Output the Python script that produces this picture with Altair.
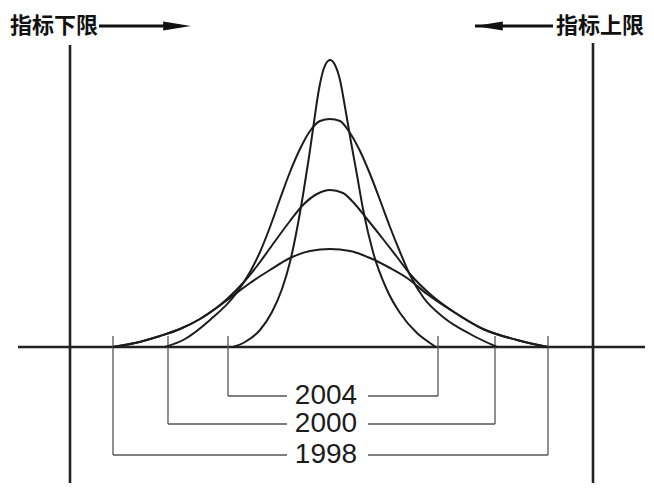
import altair as alt
import pandas as pd

# ---- curve data (x: position relative to centre, h: height above baseline) ----
x_2004 = [-97, -85, -70, -58, -48, -40, -33, -27, -21, -16, -11, -6, 0, 5, 10, 15, 21, 27, 33, 43, 57, 70, 87, 100, 106]
h_2004 = [0, 5, 17, 35, 58, 85, 118, 152, 190, 225, 258, 279, 287, 282, 267, 240, 205, 172, 138, 95, 57, 34, 14, 4, 0]

x_2000 = [-165, -145, -120, -95, -80, -70, -60, -50, -40, -30, -20, -10, 0, 10, 20, 30, 40, 50, 60, 70, 80, 93, 113, 140, 167]
h_2000 = [0, 8, 27, 52, 75, 95, 120, 148, 175, 198, 216, 226, 228, 226, 214, 196, 173, 147, 120, 95, 72, 50, 30, 13, 0]

x_1998 = [-217, -195, -170, -150, -130, -115, -103, -87, -73, -57, -40, -27, -13, 0, 13, 23, 37, 53, 67, 80, 100, 127, 153, 187, 218]
h_1998 = [0, 4, 11, 18, 28, 38, 48, 64, 81, 103, 126, 142, 153, 157, 154, 145, 128, 108, 90, 73, 53, 33, 18, 7, 0]

x_early = [-217, -195, -170, -150, -130, -115, -100, -80, -60, -40, -20, 0, 20, 40, 60, 77, 97, 127, 153, 187, 218]
h_early = [0, 4, 11, 18, 28, 38, 49, 64, 77, 89, 96, 98, 96, 89, 79, 69, 53, 33, 18, 7, 0]

# ---- frame: baseline and the two limit lines ----
frame_x1 = [-312, -260, 263]
frame_x2 = [315, -260, 263]
frame_y1 = [0, 302, 304]
frame_y2 = [0, -136, -136]

# ---- brackets ----
br_years = ["2004", "2000", "1998"]
br_left = [-102, -162, -217]
br_right = [108, 165, 218]
br_level = [-49, -77, -108]
br_top = 11
gap_left, gap_right = -43, 38
label_x = -4

# ---- limit labels ----
lim_text = ["指标下限", "指标上限"]
lim_x = [-320, 226]
lim_y = 321
shaft_x1 = [-231, 145]
shaft_x2 = [-150, 223]
head_x = [-153, 159]
head_shape = ["M -1 -0.33 L 1 0 L -1 0.33 Z", "M 1 -0.33 L -1 0 L 1 0.33 Z"]

xs = alt.Scale(domain=[-322, 316], nice=False, zero=False)
ys = alt.Scale(domain=[-136, 339], nice=False, zero=False)

rows = []
for name, xv, hv in [("2004", x_2004, h_2004), ("2000", x_2000, h_2000),
                     ("1998", x_1998, h_1998), ("early", x_early, h_early)]:
    for i, (a, b) in enumerate(zip(xv, hv)):
        rows.append({"curve": name, "i": i, "x": a, "h": b})
curves = pd.DataFrame(rows)

curve_layer = alt.Chart(curves).mark_line(
    interpolate="monotone", stroke="#1c1c1c", strokeWidth=2
).encode(
    x=alt.X("x:Q", scale=xs, axis=None),
    y=alt.Y("h:Q", scale=ys, axis=None),
    detail="curve:N",
    order="i:Q",
)

frame = pd.DataFrame({"x1": frame_x1, "x2": frame_x2, "y1": frame_y1, "y2": frame_y2})
frame_layer = alt.Chart(frame).mark_rule(stroke="#222222", strokeWidth=2.6).encode(
    x=alt.X("x1:Q", scale=xs, axis=None), x2="x2:Q",
    y=alt.Y("y1:Q", scale=ys, axis=None), y2="y2:Q",
)

seg = []
for yr, l, r, lv in zip(br_years, br_left, br_right, br_level):
    seg.append({"x1": l, "x2": l, "y1": br_top, "y2": lv})
    seg.append({"x1": r, "x2": r, "y1": br_top, "y2": lv})
    seg.append({"x1": l, "x2": gap_left, "y1": lv, "y2": lv})
    seg.append({"x1": gap_right, "x2": r, "y1": lv, "y2": lv})
seg = pd.DataFrame(seg)
bracket_layer = alt.Chart(seg).mark_rule(stroke="#555555", strokeWidth=1.3).encode(
    x=alt.X("x1:Q", scale=xs, axis=None), x2="x2:Q",
    y=alt.Y("y1:Q", scale=ys, axis=None), y2="y2:Q",
)

years = pd.DataFrame({"t": br_years, "x": [label_x] * 3, "y": br_level})
year_layer = alt.Chart(years).mark_text(
    font="Liberation Sans", fontSize=28, color="#1c1c1c", align="center", baseline="middle"
).encode(
    x=alt.X("x:Q", scale=xs, axis=None),
    y=alt.Y("y:Q", scale=ys, axis=None),
    text="t:N",
)

lims = pd.DataFrame({"t": lim_text, "x": lim_x, "y": [lim_y] * 2})
lim_layer = alt.Chart(lims).mark_text(
    font="Noto Sans CJK SC", fontSize=22, fontWeight="bold", color="#111111",
    align="left", baseline="middle"
).encode(
    x=alt.X("x:Q", scale=xs, axis=None),
    y=alt.Y("y:Q", scale=ys, axis=None),
    text="t:N",
)

shafts = pd.DataFrame({"x1": shaft_x1, "x2": shaft_x2, "y": [lim_y] * 2})
shaft_layer = alt.Chart(shafts).mark_rule(stroke="#111111", strokeWidth=3).encode(
    x=alt.X("x1:Q", scale=xs, axis=None), x2="x2:Q",
    y=alt.Y("y:Q", scale=ys, axis=None),
)

head_layers = []
for hx, shp in zip(head_x, head_shape):
    hd = pd.DataFrame({"x": [hx], "y": [lim_y]})
    head_layers.append(
        alt.Chart(hd).mark_point(shape=shp, filled=True, size=760, color="#111111", opacity=1, strokeWidth=0).encode(
            x=alt.X("x:Q", scale=xs, axis=None),
            y=alt.Y("y:Q", scale=ys, axis=None),
        )
    )

chart = alt.layer(
    frame_layer, bracket_layer, curve_layer, year_layer, lim_layer, shaft_layer, *head_layers
).properties(
    width=638, height=475, padding=0, autosize=alt.AutoSizeParams(type="none"),
    background="white",
).configure_view(stroke=None)

chart.save("out.html", embed_options={"renderer": "svg", "actions": False})
